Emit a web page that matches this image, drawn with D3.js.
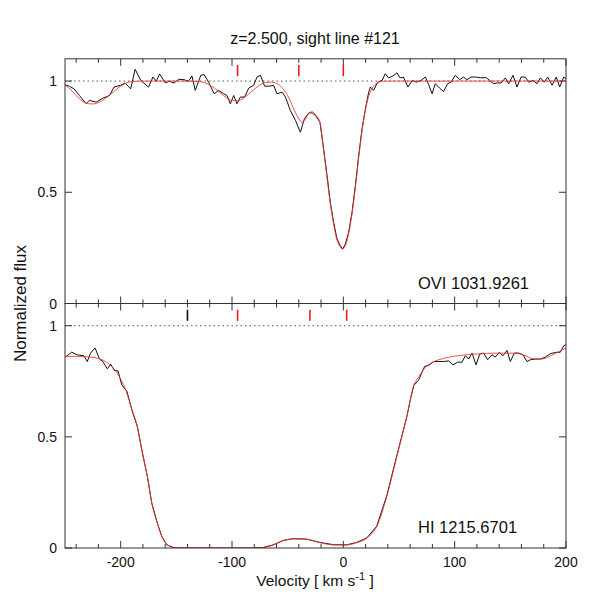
<!DOCTYPE html>
<html>
<head>
<meta charset="utf-8">
<script src="https://cdn.jsdelivr.net/npm/d3@7"></script>
<style>
  body { margin: 0; background: #fff; }
  text { font-family: "Liberation Sans", Arial, sans-serif; fill: #111; }
</style>
</head>
<body>
<div id="viz"></div>
<script>
// ---- data: OVI panel ----
const oviVel = [-250,-246,-242,-237,-231,-228,-222,-216,-210,-206,-200,-196,-191,-187,-182,-175,-171,-168,-165,-160,-156,-152,-148,-143,-139,-136,
  -133,-128,-125,-121,-116,-112,-107.5,-104.5,-101.5,-98.5,-95.5,-92.5,-88.7,-85,-80.6,-77.5,-74.5,-70.7,-66.5,-62.6,-59.6,-55,-52,-47.6,-43,-38.6,
  -35,-31,-28,-25,-21,-17.7,-14.6,-11.7,-8.7,-5.7,-2.7,-0.6,1.8,4.8,7.8,10.8,13.8,16.8,19.8,22.8,24.3,27.2,30.8,34.8,37.7,40.7,44.6,48.2,
  51,54,58,62,65.6,69.8,73.7,76.7,79.7,82.6,86.5,90,93.7,96.7,100.6,104.5,108,111,114.7,118.6,123,128.4,131.4,135,138.6,141.7,145.5,148.5,
  152.4,156,159.6,163.5,166.5,170.4,174,177,180.5,183.5,187.5,191.3,194.3,198,200]
const oviFlux = [0.983,0.977,0.965,0.935,0.898,0.913,0.905,0.923,0.935,0.973,0.981,0.991,0.965,1.053,1.003,0.973,1.018,0.999,1.032,0.992,0.999,0.991,1.008,1.006,0.999,1.023,
  0.958,1.026,1.029,0.995,0.943,0.958,0.943,0.935,0.898,0.935,0.898,0.928,0.928,0.968,0.981,1.018,1.026,0.977,0.977,0.981,0.943,0.950,0.928,0.868,0.823,0.770,
  0.830,0.857,0.857,0.845,0.815,0.695,0.575,0.455,0.365,0.290,0.260,0.245,0.267,0.320,0.410,0.530,0.665,0.785,0.875,0.950,0.973,0.958,0.995,1.003,1.033,1.014,1.023,1.037,
  1.014,1.018,0.973,1.003,0.995,1.003,1.018,0.983,0.943,0.988,0.968,0.953,0.988,0.995,1.026,1.006,1.018,1.006,1.018,1.018,1.015,1.015,1.003,0.988,0.992,0.991,1.014,0.988,
  1.026,0.973,1.018,1.018,0.995,1.003,0.988,1.014,0.995,1.018,0.981,1.018,0.973,1.018,1.01]
const oviModelVel = [-250,-245,-240,-235,-230,-225,-220,-215,-210,-205,-200,-195,-190,-180,-150,-130,-125,-120,-115,-110,-105,-100,-95,-90,-85,-80,-75,-70,-65,-60,-55,-50,-45,
  -40,-37,-34,-31,-28,-25,-21,-18,-15,-12,-9,-6,-3,-1,2,5,8,11,14,17,20,23,26,30,35,40,200]
const oviModel = [0.982,0.962,0.935,0.912,0.899,0.897,0.903,0.917,0.937,0.958,0.977,0.991,0.998,1.0,1.0,0.998,0.993,0.982,0.966,0.945,0.925,0.913,0.912,0.922,0.942,0.963,0.982,0.993,0.995,0.99,0.97,0.935,0.88,
  0.83,0.815,0.828,0.855,0.862,0.848,0.815,0.70,0.58,0.46,0.365,0.29,0.255,0.245,0.262,0.32,0.41,0.53,0.665,0.785,0.875,0.935,0.968,0.99,0.999,1.0,1.0]
const oviMarks = [-95, -40, 0]
const oviMarkColors = ["red", "red", "red"]

// ---- data: HI panel ----
const hiVel = [-250,-248,-244,-239,-233,-230,-227,-223,-219,-216,-212,-209,-205.7,-202.4,-199,-194.3,-190,-185,-181,-176,-172,-167,-163,-158.5,-152,-140,-120,-100,-80,
  -72,-63,-54,-45,-33,-21,-9,3,12,21,30,39,48,57,60.2,63.2,67.7,73,76.6,81.1,85.6,90.1,94.6,98.5,102.7,106.6,109.6,112.6,115.6,119.2,122.5,126,129.6,133.6,136.5,
  140.1,143.4,147,150,153.6,157.5,161.4,165,168,172.5,177,181.4,185.9,190.4,194.9,198,200]
const hiFlux = [0.859,0.865,0.881,0.869,0.865,0.839,0.877,0.900,0.850,0.839,0.806,0.827,0.799,0.797,0.734,0.704,0.622,0.546,0.441,0.321,0.201,0.111,0.051,0.014,0.001,0,0,0,0,
  0.002,0.014,0.034,0.042,0.040,0.025,0.015,0.014,0.025,0.045,0.098,0.235,0.415,0.590,0.667,0.730,0.757,0.817,0.821,0.839,0.839,0.839,0.842,0.824,0.836,0.836,0.865,0.850,0.877,0.824,0.872,
  0.877,0.847,0.869,0.859,0.880,0.865,0.889,0.839,0.877,0.877,0.869,0.839,0.847,0.850,0.850,0.859,0.874,0.880,0.881,0.910,0.915]
const hiModelVel = [-250,-240,-230,-222,-215,-210,-205,-200,-195,-190,-185,-181,-176,-172,-167,-163,-158,-152,-145,-80,-72,-63,-54,-45,-33,-21,-9,3,12,21,30,39,48,57,63,68,74,80,
  90,100,117,140,155,162,170,178,186,193,200]
const hiModel = [0.862,0.862,0.860,0.855,0.843,0.825,0.80,0.76,0.705,0.625,0.545,0.441,0.321,0.201,0.111,0.051,0.014,0.002,0,0,0.002,0.014,0.033,0.041,0.039,0.024,0.014,0.014,0.024,0.044,0.096,0.231,0.411,0.591,0.727,0.772,0.815,0.835,
  0.853,0.863,0.872,0.877,0.876,0.868,0.852,0.850,0.864,0.882,0.90]
const hiMarks = [-140, -95, -30, 3]
const hiMarkColors = ["black", "red", "red", "red"]

const xTicks = [-200, -100, 0, 100, 200]
const yTicks = [0, 0.5, 1]

document.addEventListener("DOMContentLoaded", () => {

  const width = 600
  const height = 595
  const left = 65, right = 566
  const panelTop = 58.8, panelMid = 303.5, panelBottom = 548

  const svg = d3.select("#viz").append("svg")
    .attr("width", width)
    .attr("height", height)

  const x = d3.scaleLinear().domain([-250, 200]).range([left, right])

  const panels = [
    { vel: oviVel, flux: oviFlux, mVel: oviModelVel, model: oviModel, marks: oviMarks, markColors: oviMarkColors,
      top: panelTop, bottom: panelMid, label: "OVI 1031.9261" },
    { vel: hiVel, flux: hiFlux, mVel: hiModelVel, model: hiModel, marks: hiMarks, markColors: hiMarkColors,
      top: panelMid, bottom: panelBottom, label: "HI 1215.6701" }
  ]

  panels.forEach((p, i) => {
    const y = d3.scaleLinear().domain([0, 1.1]).range([p.bottom, p.top])
    const g = svg.append("g")

    const clipId = "clip" + i
    svg.append("clipPath").attr("id", clipId)
      .append("rect").attr("x", left).attr("y", p.top).attr("width", right - left).attr("height", p.bottom - p.top)

    // dotted continuum
    g.append("line")
      .attr("x1", left).attr("x2", right)
      .attr("y1", y(1)).attr("y2", y(1))
      .attr("stroke", "#555").attr("stroke-width", 1)
      .attr("stroke-dasharray", "1.5,3")

    // ticks (inward, all four sides)
    const minor = d3.range(-240, 201, 20)
    minor.forEach(v => {
      const len = xTicks.includes(v) ? 7 : 4
      g.append("line").attr("x1", x(v)).attr("x2", x(v)).attr("y1", p.bottom).attr("y2", p.bottom - len)
        .attr("stroke", "#333")
      g.append("line").attr("x1", x(v)).attr("x2", x(v)).attr("y1", p.top).attr("y2", p.top + len)
        .attr("stroke", "#333")
    })
    yTicks.forEach(t => {
      g.append("line").attr("x1", left).attr("x2", left + 7).attr("y1", y(t)).attr("y2", y(t)).attr("stroke", "#333")
      g.append("line").attr("x1", right).attr("x2", right - 7).attr("y1", y(t)).attr("y2", y(t)).attr("stroke", "#333")
      g.append("text")
        .attr("x", left - 8).attr("y", y(t) + 5)
        .attr("text-anchor", "end")
        .attr("font-size", 14)
        .text(t)
    })

    // model (red) and data (black)
    const data = p.vel.map((v, k) => [v, p.flux[k]])
    const model = p.mVel.map((v, k) => [v, p.model[k]])

    g.append("path")
      .datum(data)
      .attr("clip-path", "url(#" + clipId + ")")
      .attr("fill", "none")
      .attr("stroke", "#111")
      .attr("stroke-width", 1)
      .attr("d", d3.line().x(d => x(d[0])).y(d => y(d[1])))

    g.append("path")
      .datum(model)
      .attr("clip-path", "url(#" + clipId + ")")
      .attr("fill", "none")
      .attr("stroke", "#ff3030")
      .attr("stroke-opacity", 0.85)
      .attr("stroke-width", 1)
      .attr("d", d3.line().curve(d3.curveMonotoneX).x(d => x(d[0])).y(d => y(d[1])))

    // component markers
    p.marks.forEach((m, k) => {
      g.append("line")
        .attr("x1", x(m)).attr("x2", x(m))
        .attr("y1", y(1.072)).attr("y2", y(1.022))
        .attr("stroke", p.markColors[k] == "red" ? "#ee1c1c" : "#111")
        .attr("stroke-width", 1.6)
    })

    // frame
    g.append("rect")
      .attr("x", left).attr("y", p.top)
      .attr("width", right - left).attr("height", p.bottom - p.top)
      .attr("fill", "none").attr("stroke", "#333").attr("stroke-width", 1)

    g.append("text")
      .attr("x", 418).attr("y", p.bottom - 15)
      .attr("font-size", 16.5)
      .text(p.label)
  })

  // x tick labels
  xTicks.forEach(t => {
    svg.append("text")
      .attr("x", x(t)).attr("y", panelBottom + 19)
      .attr("text-anchor", "middle")
      .attr("font-size", 14)
      .text(t)
  })

  // title
  svg.append("text")
    .attr("x", 315).attr("y", 44)
    .attr("text-anchor", "middle")
    .attr("font-size", 16)
    .text("z=2.500, sight line #121")

  // axis titles
  svg.append("text")
    .attr("transform", "translate(26," + panelMid + ") rotate(-90)")
    .attr("text-anchor", "middle")
    .attr("font-size", 17)
    .text("Normalized flux")

  const xl = svg.append("text")
    .attr("x", 315).attr("y", 586)
    .attr("text-anchor", "middle")
    .attr("font-size", 15.5)
  xl.append("tspan").text("Velocity [ km s")
  xl.append("tspan").attr("dy", -6).attr("font-size", 11).text("-1")
  xl.append("tspan").attr("dy", 6).text(" ]")
})
</script>
</body>
</html>
